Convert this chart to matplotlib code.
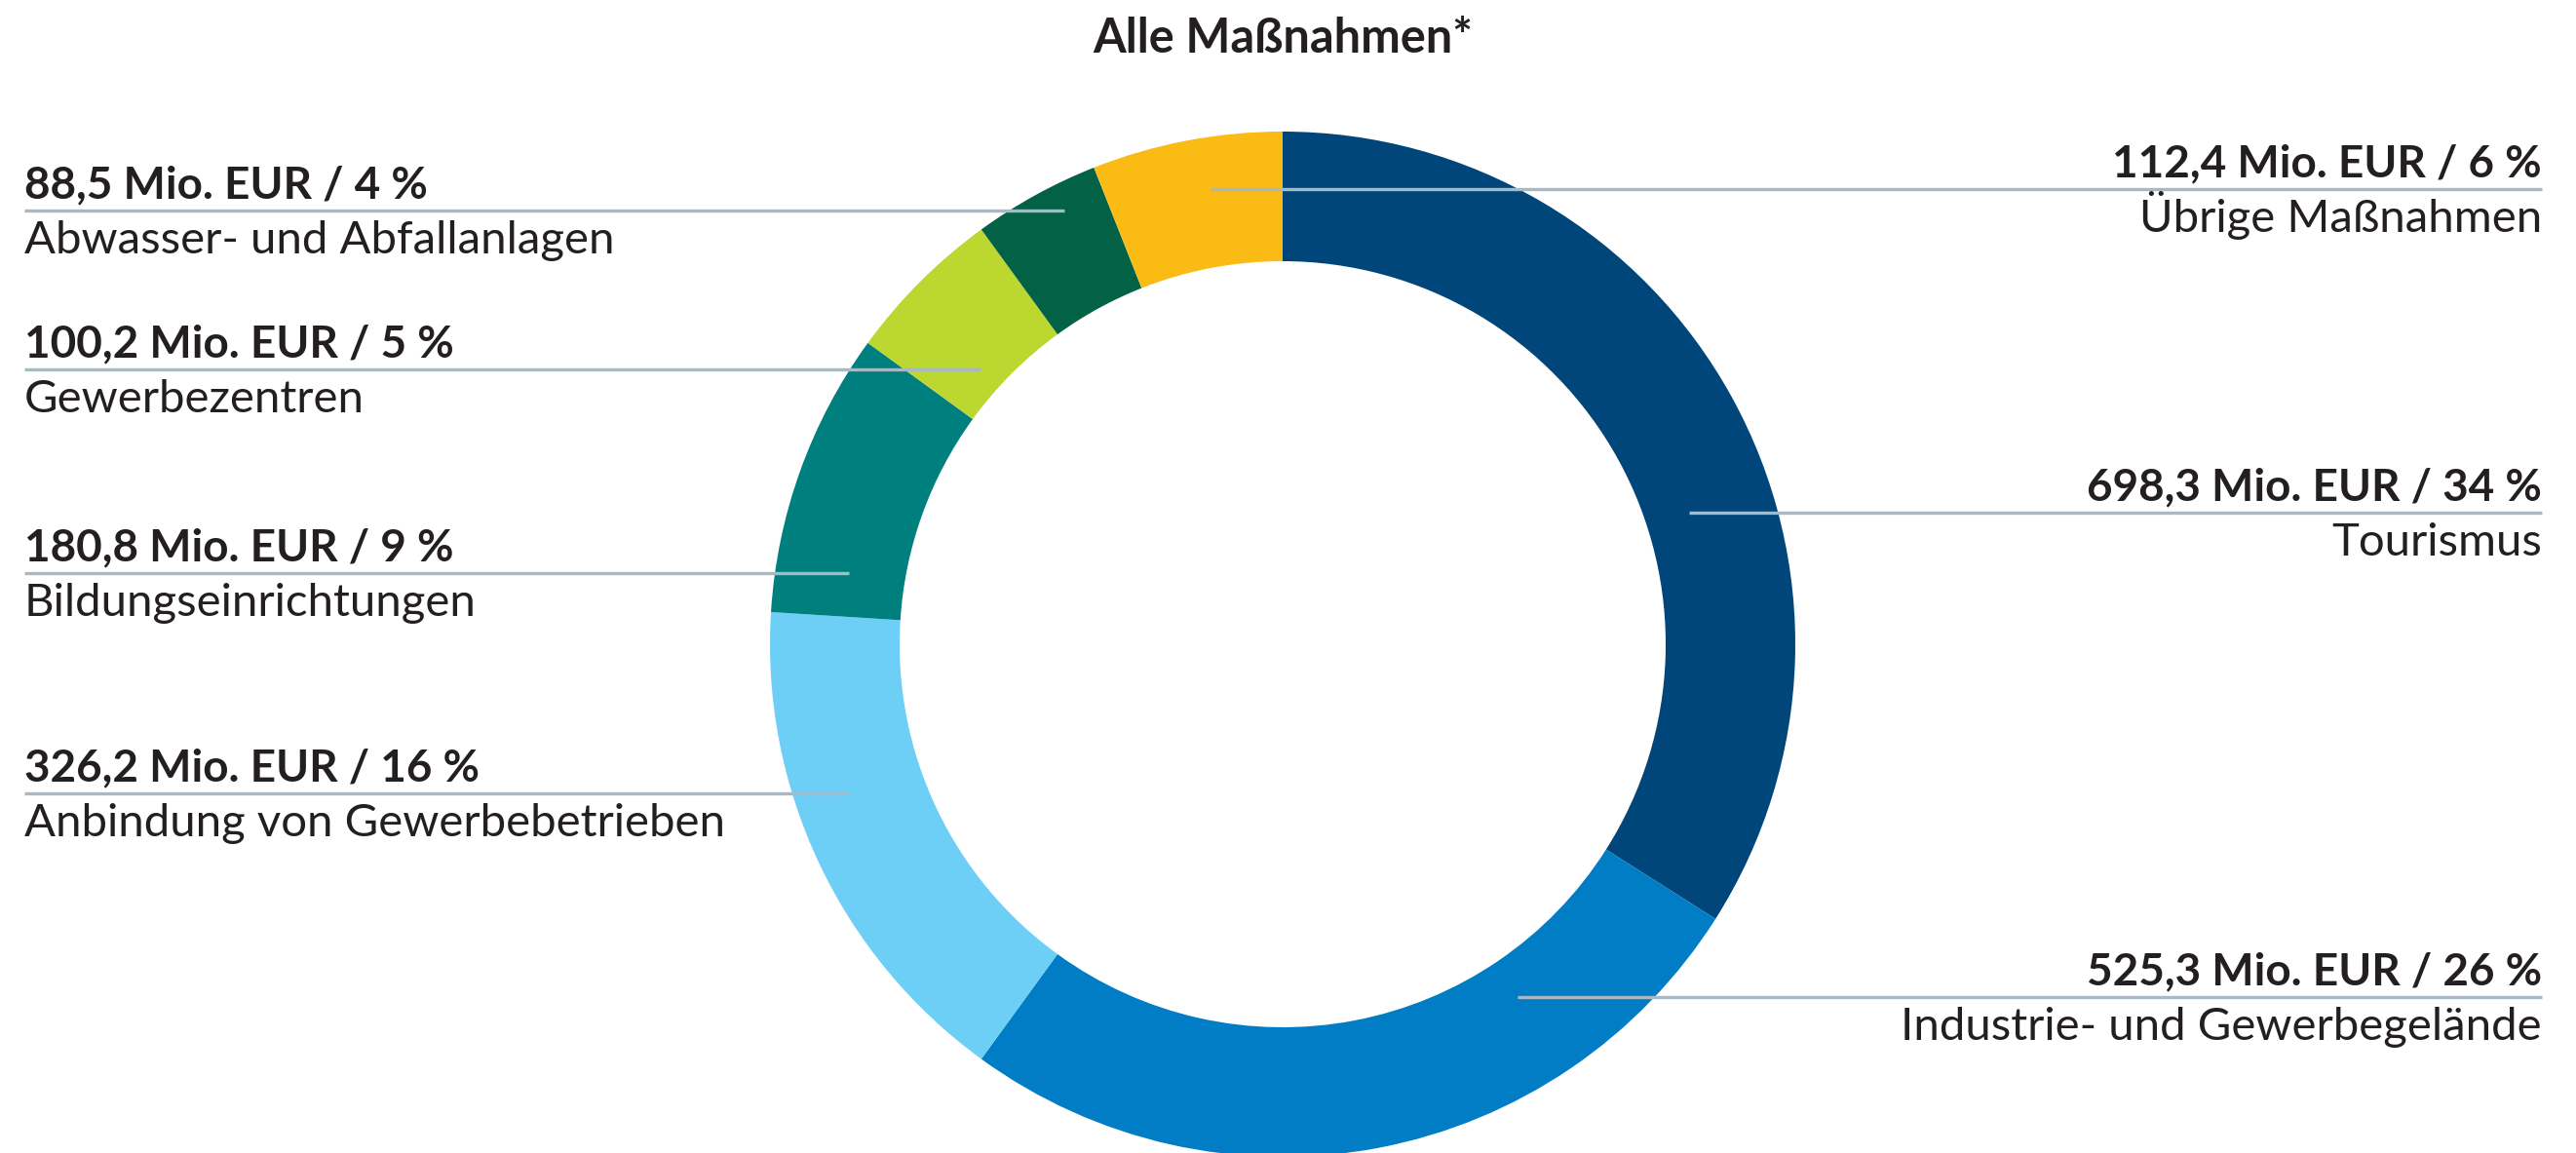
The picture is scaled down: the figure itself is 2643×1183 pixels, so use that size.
import matplotlib
matplotlib.use("Agg")
import matplotlib.pyplot as plt

# Data
categories = ["Tourismus", "Industrie- und Gewerbegelände", "Anbindung von Gewerbebetrieben",
              "Bildungseinrichtungen", "Gewerbezentren", "Abwasser- und Abfallanlagen",
              "Übrige Maßnahmen"]
values = [698.3, 525.3, 326.2, 180.8, 100.2, 88.5, 112.4]
percents = [34, 26, 16, 9, 5, 4, 6]
colors = ["#00467A", "#007DC4", "#6DCFF6", "#007F7F", "#BDD731", "#036146", "#FBBB15"]
title = "Alle Maßnahmen*"

# Layout (pixel units, y from top)
W, H = 2643, 1183
CX, CY = 1316, 661
R_OUT, RING = 526, 133
LEFT_X, RIGHT_X = 25, 2608
# side, leader line y, inner end x of leader line
label_side = ["right", "right", "left", "left", "left", "left", "right"]
label_y = [526, 1023, 814, 588, 379, 216, 194]
line_end_x = [1733, 1557, 871, 871, 1006, 1092, 1242]

LINE_COLOR = "#A7B9C3"
TEXT_COLOR = "#231F20"

plt.rcParams['font.family'] = ['Lato', 'DejaVu Sans']

fig = plt.figure(figsize=(W / 100, H / 100), dpi=100)
ax = fig.add_axes([0, 0, 1, 1])

# ring is drawn from the rounded shares, as in the original graphic
ax.pie(percents, colors=colors, startangle=90, counterclock=False,
       radius=R_OUT, center=(CX, H - CY),
       wedgeprops=dict(width=RING, linewidth=0, antialiased=True))
ax.set_xlim(0, W)
ax.set_ylim(0, H)
ax.set_aspect('equal')
ax.axis('off')

for cat, v, p, side, ly, ex in zip(categories, values, percents, label_side, label_y, line_end_x):
    y = H - ly
    if side == "left":
        x0, x1, tx, ha = LEFT_X, ex, LEFT_X, 'left'
    else:
        x0, x1, tx, ha = ex, RIGHT_X, RIGHT_X, 'right'
    ax.plot([x0, x1], [y, y], color=LINE_COLOR, linewidth=2.4, solid_capstyle='butt', zorder=5)
    val = f"{v:.1f}".replace('.', ',')
    ax.text(tx, y + 13, f"{val} Mio. EUR / {p} %", ha=ha, va='baseline',
            fontsize=33, fontweight='bold', color=TEXT_COLOR, zorder=6)
    ax.text(tx, y - 44, cat, ha=ha, va='baseline',
            fontsize=34, color=TEXT_COLOR, zorder=6)

ax.text(CX, H - 54, title, ha='center', va='baseline',
        fontsize=35, fontweight='bold', color=TEXT_COLOR)

fig.savefig("out.png", dpi=100, facecolor='white')
